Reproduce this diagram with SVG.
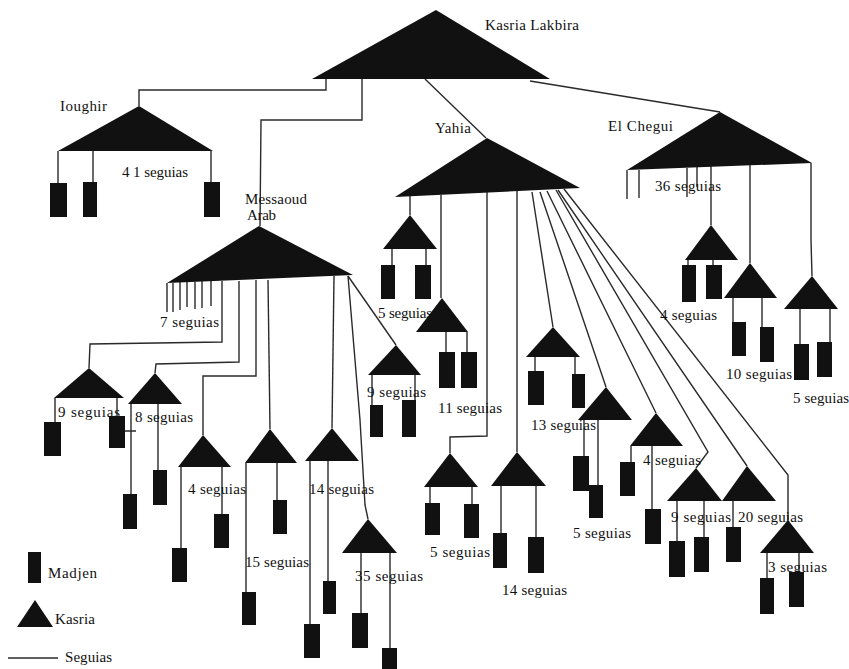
<svg xmlns="http://www.w3.org/2000/svg" width="849" height="669" viewBox="0 0 849 669">
<style>
.c{stroke:#2a2a2a;stroke-width:1.4;fill:none}
.k{fill:#111}
.m{fill:#111}
text{font-family:"Liberation Serif","Times New Roman",serif;font-size:15px;fill:#111}
</style>
<rect width="849" height="669" fill="#fff"/>
<g id="connectors" class="c">
<polyline points="326,79 326,90 139,90 139,106"/>
<polyline points="362,79 362,120 261,120 260,226"/>
<polyline points="425,79 486,138"/>
<polyline points="530,81 720,112"/>
<path d="M58,151V183M93,151V182M211,151V182"/>
<path d="M627,170V199M639,170V198M687,168V197M697,167V187M711,166V225M750,165V263"/>
<polyline points="811,163 811,240 812,276"/>
<path d="M688,260V266M713,260V266M733,298V322M762,298V327M800,309V344M830,309V342"/>
<path d="M410,196V215M392,249V265M426,249V265"/>
<path d="M441,195V298M446,332V352M467,332V352"/>
<polyline points="487,192 487,436 450,437 450,453"/>
<path d="M430,487V503M472,487V504"/>
<path d="M517,190V452M501,486V533M536,486V537"/>
<path d="M532,192L553,327M535,357V371M575,357V374"/>
<path d="M540,192L606,387M584,420V456M598,420V485"/>
<path d="M547,191L656,413M631,446V462M652,446V509"/>
<polyline points="556,190 708,452 696,468"/>
<path d="M677,501V541M704,501V537"/>
<path d="M558,190L747,466M733,501V527"/>
<polyline points="564,189 788,475 788,520"/>
<path d="M767,553V578M799,553V572"/>
<path d="M167,283V312M173,283V312M180,282V310M187,282V307M195,282V309M202,281V308M211,281V306"/>
<polyline points="222,281 222,342 90,344 89,368"/>
<polyline points="239,281 239,362 156,364 155,373"/>
<polyline points="256,280 256,376 203,376 203,435"/>
<polyline points="268,280 270,429"/>
<polyline points="334,276 332,428"/>
<polyline points="348,276 360,420 365,505 368,519"/>
<polyline points="348,276 396,345"/>
<path d="M55,398V422M117,398V416"/>
<path d="M131,404V494M158,404V470M125,431H136"/>
<path d="M181,467V548M222,467V514"/>
<path d="M246,463V592M277,463V500"/>
<path d="M310,461V624M328,461V581"/>
<path d="M361,553V613M390,553V648"/>
<path d="M372,375V405M415,375V400"/>
</g>
<g id="k-lakbira"><polygon class="k" points="312,79 436,10 550,79"/><text x="485" y="30" textLength="94" lengthAdjust="spacing">Kasria Lakbira</text></g>
<g id="k-ioughir"><polygon class="k" points="58,151 139,106 213,151"/><text x="60" y="111" textLength="47" lengthAdjust="spacing">Ioughir</text><text x="122" y="177" textLength="66" lengthAdjust="spacing">4 1 seguias</text>
<rect id="mj-i1" class="m" x="50" y="183" width="17" height="34"/><rect id="mj-i2" class="m" x="83" y="182" width="14" height="35"/><rect id="mj-i3" class="m" x="204" y="182" width="16" height="35"/></g>
<g id="k-elchegui"><polygon class="k" points="627,170 720,112 812,163"/><text x="608" y="131" textLength="65" lengthAdjust="spacing">El Chegui</text><text x="655" y="191" textLength="66" lengthAdjust="spacing">36 seguias</text></g>
<g id="k-yahia"><polygon class="k" points="395,197 487,138 580,188"/><text x="435" y="133" textLength="36" lengthAdjust="spacing">Yahia</text></g>
<g id="k-messaoud"><polygon class="k" points="167,283 259,226 353,275"/><text x="245" y="204" textLength="62" lengthAdjust="spacing">Messaoud</text><text x="247" y="220" textLength="29" lengthAdjust="spacing">Arab</text><text x="160" y="327" textLength="59" lengthAdjust="spacing">7 seguias</text></g>
<g id="k-y5a"><polygon class="k" points="383,249 410,215 437,249"/><rect class="m" x="381" y="265" width="14" height="34"/><rect class="m" x="415" y="265" width="16" height="34"/><text x="378" y="318" textLength="54" lengthAdjust="spacing">5 seguias</text></g>
<g id="k-y11"><polygon class="k" points="416,332 442,298 468,332"/><rect class="m" x="439" y="352" width="16" height="36"/><rect class="m" x="461" y="352" width="16" height="36"/><text x="438" y="413" textLength="64" lengthAdjust="spacing">11 seguias</text></g>
<g id="k-y5b"><polygon class="k" points="424,487 450,453 478,487"/><rect class="m" x="425" y="503" width="15" height="32"/><rect class="m" x="464" y="504" width="15" height="34"/><text x="430" y="557" textLength="60" lengthAdjust="spacing">5 seguias</text></g>
<g id="k-y14"><polygon class="k" points="491,486 517,452 546,486"/><rect class="m" x="493" y="533" width="14" height="35"/><rect class="m" x="528" y="537" width="16" height="36"/><text x="502" y="595" textLength="65" lengthAdjust="spacing">14 seguias</text></g>
<g id="k-y13"><polygon class="k" points="526,357 553,327 580,357"/><rect class="m" x="528" y="371" width="16" height="34"/><rect class="m" x="572" y="374" width="13" height="34"/><text x="531" y="430" textLength="65" lengthAdjust="spacing">13 seguias</text></g>
<g id="k-y5c"><polygon class="k" points="578,420 606,387 632,420"/><rect class="m" x="573" y="456" width="16" height="35"/><rect class="m" x="589" y="485" width="14" height="33"/><text x="573" y="538" textLength="58" lengthAdjust="spacing">5 seguias</text></g>
<g id="k-y4"><polygon class="k" points="630,446 656,413 683,446"/><rect class="m" x="620" y="462" width="15" height="34"/><rect class="m" x="645" y="509" width="16" height="35"/><text x="643" y="465" textLength="58" lengthAdjust="spacing">4 seguias</text></g>
<g id="k-y9"><polygon class="k" points="667,501 696,468 722,501"/><rect class="m" x="669" y="541" width="16" height="36"/><rect class="m" x="694" y="537" width="15" height="35"/><text x="671" y="522" textLength="60" lengthAdjust="spacing">9 seguias</text></g>
<g id="k-y20"><polygon class="k" points="722,501 747,466 776,501"/><rect class="m" x="726" y="527" width="15" height="35"/><text x="738" y="522" textLength="65" lengthAdjust="spacing">20 seguias</text></g>
<g id="k-y3"><polygon class="k" points="760,553 788,520 814,553"/><rect class="m" x="760" y="578" width="14" height="36"/><rect class="m" x="789" y="572" width="15" height="35"/><text x="768" y="572" textLength="59" lengthAdjust="spacing">3 seguias</text></g>
<g id="k-ec4"><polygon class="k" points="685,260 711,225 738,260"/><rect class="m" x="682" y="265" width="14" height="37"/><rect class="m" x="706" y="265" width="16" height="34"/><text x="660" y="320" textLength="57" lengthAdjust="spacing">4 seguias</text></g>
<g id="k-ec10"><polygon class="k" points="724,298 750,263 777,298"/><rect class="m" x="732" y="322" width="14" height="34"/><rect class="m" x="760" y="327" width="14" height="35"/><text x="726" y="379" textLength="66" lengthAdjust="spacing">10 seguias</text></g>
<g id="k-ec5"><polygon class="k" points="784,309 812,276 838,309"/><rect class="m" x="794" y="344" width="15" height="36"/><rect class="m" x="817" y="342" width="15" height="35"/><text x="793" y="403" textLength="56" lengthAdjust="spacing">5 seguias</text></g>
<g id="k-m9a"><polygon class="k" points="54,398 89,368 124,398"/><rect class="m" x="44" y="422" width="17" height="34"/><text x="58" y="417" textLength="62" lengthAdjust="spacing">9 seguias</text><rect class="m" x="109" y="416" width="16" height="32"/></g>
<g id="k-m8"><polygon class="k" points="128,404 155,373 182,404"/><rect class="m" x="123" y="494" width="14" height="35"/><rect class="m" x="153" y="470" width="14" height="35"/><text x="135" y="422" textLength="58" lengthAdjust="spacing">8 seguias</text></g>
<g id="k-m4"><polygon class="k" points="178,467 203,435 231,467"/><rect class="m" x="172" y="548" width="15" height="34"/><rect class="m" x="214" y="514" width="15" height="34"/><text x="188" y="494" textLength="58" lengthAdjust="spacing">4 seguias</text></g>
<g id="k-m15"><polygon class="k" points="245,463 270,429 297,463"/><rect class="m" x="242" y="592" width="14" height="33"/><rect class="m" x="273" y="500" width="14" height="34"/><text x="245" y="567" textLength="64" lengthAdjust="spacing">15 seguias</text></g>
<g id="k-m14"><polygon class="k" points="305,461 332,428 359,461"/><rect class="m" x="304" y="624" width="16" height="34"/><rect class="m" x="323" y="581" width="13" height="33"/><text x="309" y="494" textLength="65" lengthAdjust="spacing">14 seguias</text></g>
<g id="k-m35"><polygon class="k" points="342,553 368,519 397,553"/><rect class="m" x="352" y="613" width="16" height="35"/><rect class="m" x="382" y="648" width="15" height="30"/><text x="355" y="581" textLength="68" lengthAdjust="spacing">35 seguias</text></g>
<g id="k-m9b"><polygon class="k" points="368,375 396,345 421,375"/><rect class="m" x="370" y="405" width="13" height="32"/><rect class="m" x="402" y="400" width="14" height="37"/><text x="367" y="397" textLength="59" lengthAdjust="spacing">9 seguias</text></g>
<g id="legend">
<rect class="m" x="28" y="552" width="13" height="31"/><text x="48" y="578" textLength="49" lengthAdjust="spacing">Madjen</text>
<polygon class="k" points="17,627 35,600 53,627"/><text x="55" y="624" textLength="40" lengthAdjust="spacing">Kasria</text>
<line class="c" x1="8" y1="658" x2="58" y2="658"/><text x="65" y="662" textLength="47" lengthAdjust="spacing">Seguias</text>
</g>
</svg>
